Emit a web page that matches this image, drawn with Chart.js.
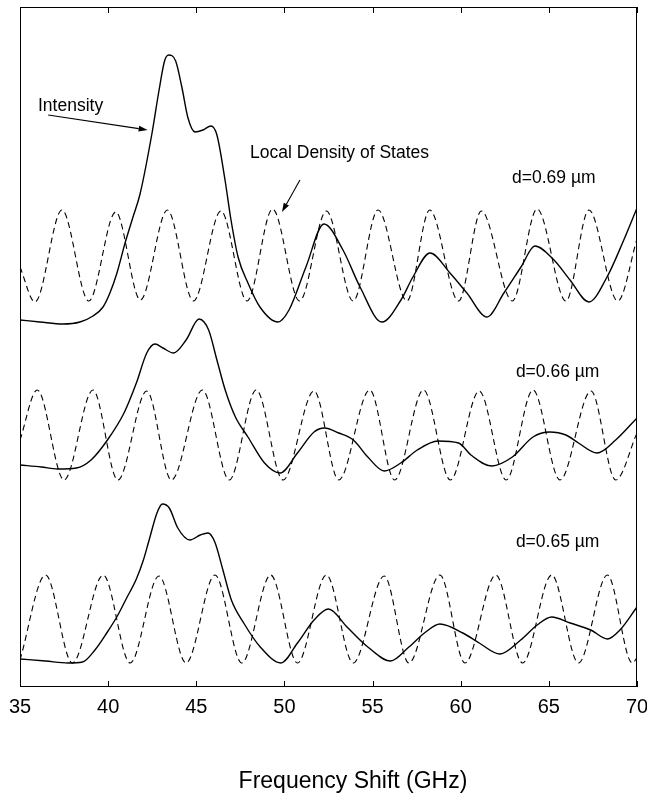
<!DOCTYPE html>
<html>
<head>
<meta charset="utf-8">
<script src="https://cdn.jsdelivr.net/npm/chart.js@4.4.1/dist/chart.umd.min.js"></script>
<style>
  html, body { margin: 0; padding: 0; background: #fff; }
  #wrap { width: 647px; height: 793px; position: relative; }
</style>
</head>
<body>
<div id="wrap"><canvas id="c"></canvas></div>
<script>
// frequency shift (GHz) and curve heights (arbitrary units, panels stacked)
const ldos69Freq = [35.0, 35.85, 37.38, 38.90, 40.43, 41.83, 43.36, 44.84, 46.40, 47.88, 49.33, 50.86, 52.38, 53.90, 55.31, 56.95, 58.24, 59.88, 61.17, 62.93, 64.33, 65.97, 67.27, 68.91, 70.0];
const ldos69Val  = [42.0, 38.5, 47.7, 38.6, 47.5, 38.7, 47.7, 38.6, 47.6, 38.6, 47.8, 38.6, 47.6, 38.6, 47.7, 38.6, 47.7, 38.6, 47.6, 38.6, 47.8, 38.6, 47.7, 38.6, 44.8];

const ldos66Freq = [35.0, 35.98, 37.50, 39.14, 40.55, 42.19, 43.59, 45.35, 46.87, 48.40, 49.92, 51.68, 53.08, 54.84, 56.25, 57.89, 59.41, 61.05, 62.58, 64.10, 65.63, 67.39, 68.79, 70.0];
const ldos66Val  = [24.7, 29.7, 20.7, 29.7, 20.7, 29.6, 20.7, 29.7, 20.7, 29.7, 20.7, 29.6, 20.7, 29.7, 20.7, 29.7, 20.7, 29.6, 20.7, 29.7, 20.7, 29.6, 20.7, 25.4];

const ldos65Freq = [35.0, 36.45, 37.97, 39.72, 41.25, 42.88, 44.42, 46.06, 47.58, 49.22, 50.74, 52.38, 53.90, 55.66, 57.06, 58.82, 60.24, 61.99, 63.51, 65.16, 66.68, 68.32, 69.73, 70.0];
const ldos65Val  = [2.7, 11.2, 2.4, 11.2, 2.4, 11.1, 2.4, 11.2, 2.4, 11.2, 2.4, 11.2, 2.4, 11.1, 2.4, 11.2, 2.4, 11.2, 2.4, 11.2, 2.4, 11.2, 2.4, 2.9];

const int69Freq = [35.0, 36.13, 37.44, 38.40, 39.14, 39.71, 40.10, 40.50, 40.96, 41.41, 41.81, 42.49, 42.88, 43.20, 43.43, 43.83, 44.18, 44.53, 44.93, 45.38, 45.83, 46.17, 46.63, 46.97, 47.37, 47.93, 48.61, 49.63, 50.26, 51.22, 52.24, 53.32, 54.29, 55.53, 56.61, 57.29, 58.26, 59.39, 60.35, 61.49, 62.45, 63.42, 64.21, 65.29, 66.20, 67.27, 68.30, 69.25, 70.0];
const int69Val  = [36.7, 36.5, 36.3, 36.5, 37.1, 38.0, 39.4, 41.4, 44.4, 47.0, 49.3, 55.4, 59.6, 62.6, 63.2, 62.6, 60.0, 56.9, 55.5, 55.7, 56.1, 55.2, 50.7, 46.7, 43.0, 40.4, 38.0, 36.5, 37.7, 42.0, 46.3, 43.7, 40.0, 36.5, 38.7, 41.0, 43.4, 41.4, 39.4, 37.0, 39.4, 42.0, 44.1, 42.7, 40.7, 38.5, 41.0, 44.7, 47.9];

const int66Freq = [35.0, 36.21, 37.15, 38.20, 39.03, 39.96, 40.90, 41.60, 42.19, 42.66, 43.11, 43.71, 44.42, 45.16, 45.70, 46.17, 46.64, 47.22, 47.93, 48.87, 49.75, 50.74, 51.68, 52.27, 53.08, 53.91, 54.73, 55.66, 56.60, 57.54, 58.71, 59.88, 60.58, 61.76, 62.93, 64.10, 65.04, 65.97, 66.68, 67.73, 68.79, 70.0];
const int66Val  = [22.2, 22.0, 21.8, 21.9, 22.7, 24.7, 27.4, 30.4, 33.4, 34.3, 33.9, 33.4, 34.7, 36.8, 35.7, 32.7, 29.7, 27.0, 25.0, 22.4, 21.4, 23.4, 25.5, 25.9, 25.4, 24.7, 23.0, 21.6, 22.4, 23.7, 24.6, 24.4, 23.2, 22.1, 23.0, 25.0, 25.5, 25.2, 24.4, 23.4, 24.7, 26.9];

const int65Freq = [35.0, 36.45, 37.73, 38.55, 39.25, 39.92, 40.49, 41.05, 41.60, 42.00, 42.31, 42.77, 43.08, 43.47, 43.95, 44.64, 45.23, 45.66, 46.05, 46.51, 46.99, 47.69, 48.63, 49.80, 50.74, 51.68, 52.50, 53.55, 54.73, 56.02, 57.06, 58.01, 58.82, 60.12, 61.05, 62.23, 63.40, 64.34, 65.16, 66.21, 67.38, 68.32, 69.03, 70.0];
const int65Val  = [2.8, 2.6, 2.4, 2.5, 3.7, 5.4, 7.0, 8.9, 10.8, 12.7, 14.6, 17.4, 18.3, 17.9, 15.9, 14.7, 15.2, 15.4, 14.5, 11.7, 8.7, 6.4, 4.0, 2.4, 4.4, 6.7, 7.8, 6.0, 4.0, 2.6, 4.0, 5.5, 6.3, 5.4, 4.4, 3.3, 4.7, 6.2, 7.0, 6.4, 5.7, 4.8, 5.7, 8.0];

const tickValues = [35, 40, 45, 50, 55, 60, 65, 70];
const panelLabels = ['d=0.69 \u00b5m', 'd=0.66 \u00b5m', 'd=0.65 \u00b5m'];
const axisTitle = 'Frequency Shift (GHz)';

const FONT = '"Liberation Sans", Arial, Helvetica, sans-serif';

function pts(xs, ys) {
    return xs.map((x, i) => ({ x: x, y: ys[i] }));
}

function solid(xs, ys) {
    return { data: pts(xs, ys), borderColor: '#000', borderWidth: 1.4, pointRadius: 0, cubicInterpolationMode: 'monotone', fill: false };
}

function dashed(xs, ys) {
    return { data: pts(xs, ys), borderColor: '#000', borderWidth: 1.1, borderDash: [6, 4], pointRadius: 0, cubicInterpolationMode: 'monotone', fill: false };
}

// text notes and arrows, placed in data coordinates
const notes = [
    { text: 'Intensity', x: 36.02, y: 58.1 },
    { text: 'Local Density of States', x: 48.05, y: 53.4 },
    { text: panelLabels[0], x: 62.91, y: 50.9 },
    { text: panelLabels[1], x: 63.13, y: 31.5 },
    { text: panelLabels[2], x: 63.13, y: 14.5 }
];
const arrows = [
    { x0: 36.6, y0: 57.2, x1: 42.24, y1: 55.7 },
    { x0: 50.88, y0: 50.7, x1: 49.86, y1: 47.5 }
];

const overlay = {
    id: 'overlay',
    beforeDraw(chart) {
        const ctx = chart.ctx;
        ctx.save();
        ctx.fillStyle = '#fff';
        ctx.fillRect(0, 0, chart.width, chart.height);
        ctx.restore();
    },
    afterDraw(chart) {
        const { ctx, chartArea: a } = chart;
        const x = chart.scales.x, y = chart.scales.y;
        ctx.save();
        ctx.strokeStyle = '#000';
        ctx.lineWidth = 1;
        ctx.strokeRect(a.left + 0.5, a.top + 0.5, a.right - a.left - 1, a.bottom - a.top - 1);

        // inward ticks, top and bottom
        ctx.beginPath();
        tickValues.forEach(v => {
            const px = Math.round(x.getPixelForValue(v)) + 0.5;
            ctx.moveTo(px, a.bottom);
            ctx.lineTo(px, a.bottom - 6);
            ctx.moveTo(px, a.top);
            ctx.lineTo(px, a.top + 6);
        });
        ctx.stroke();

        ctx.fillStyle = '#000';
        ctx.font = '17.5px ' + FONT;
        ctx.textAlign = 'left';
        ctx.textBaseline = 'middle';
        notes.forEach(n => {
            ctx.fillText(n.text, x.getPixelForValue(n.x), y.getPixelForValue(n.y));
        });

        ctx.lineWidth = 1.1;
        arrows.forEach(r => {
            const ax = x.getPixelForValue(r.x0), ay = y.getPixelForValue(r.y0);
            const bx = x.getPixelForValue(r.x1), by = y.getPixelForValue(r.y1);
            const ang = Math.atan2(by - ay, bx - ax);
            const len = 9, w = 3;
            ctx.beginPath();
            ctx.moveTo(ax, ay);
            ctx.lineTo(bx - len * Math.cos(ang), by - len * Math.sin(ang));
            ctx.stroke();
            ctx.beginPath();
            ctx.moveTo(bx, by);
            ctx.lineTo(bx - len * Math.cos(ang) + w * Math.sin(ang), by - len * Math.sin(ang) - w * Math.cos(ang));
            ctx.lineTo(bx - len * Math.cos(ang) - w * Math.sin(ang), by - len * Math.sin(ang) + w * Math.cos(ang));
            ctx.closePath();
            ctx.fill();
        });

        // axis title
        ctx.font = '23px ' + FONT;
        ctx.textAlign = 'center';
        ctx.textBaseline = 'alphabetic';
        ctx.fillText(axisTitle, 353, 788);
        ctx.restore();
    }
};

new Chart(document.getElementById('c'), {
    type: 'line',
    data: {
        datasets: [
            dashed(ldos69Freq, ldos69Val),
            solid(int69Freq, int69Val),
            dashed(ldos66Freq, ldos66Val),
            solid(int66Freq, int66Val),
            dashed(ldos65Freq, ldos65Val),
            solid(int65Freq, int65Val)
        ]
    },
    options: {
        responsive: true,
        maintainAspectRatio: false,
        animation: false,
        layout: { padding: { top: 7, left: 20, right: 10, bottom: 0 } },
        plugins: { legend: { display: false }, tooltip: { enabled: false } },
        scales: {
            x: {
                type: 'linear',
                min: 35,
                max: 70,
                grid: { display: false, drawTicks: false },
                border: { display: false },
                afterBuildTicks: s => { s.ticks = tickValues.map(v => ({ value: v })); },
                ticks: { color: '#000', font: { family: FONT, size: 20 }, padding: 8, maxRotation: 0, autoSkip: false },
                afterFit: s => { s.height = 106; s.paddingLeft = 0; s.paddingRight = 0; }
            },
            y: { display: false, min: 0, max: 68 }
        }
    },
    plugins: [overlay]
});
</script>
</body>
</html>
